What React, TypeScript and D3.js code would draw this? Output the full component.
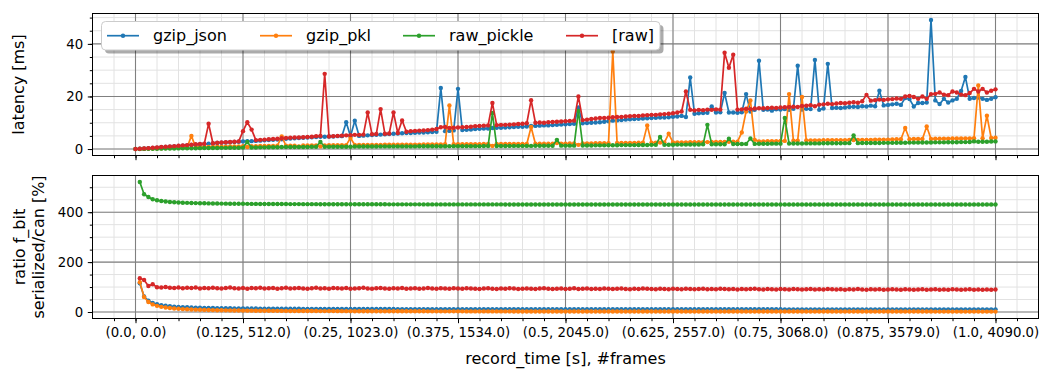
import React, { useEffect, useRef } from 'react';
import * as d3 from 'd3';

const WIDTH = 1041;
const HEIGHT = 369;
const STEP = 0.005; // record_time between two samples
const FONT = 'DejaVu Sans, sans-serif';

const seriesNames = ['gzip_json', 'gzip_pkl', 'raw_pickle', '[raw]'];
const seriesColors = ['#1f77b4', '#ff7f0e', '#2ca02c', '#d62728'];

const tickTimes = [0, 0.125, 0.25, 0.375, 0.5, 0.625, 0.75, 0.875, 1.0];
const tickLabels = [
  '(0.0, 0.0)', '(0.125, 512.0)', '(0.25, 1023.0)', '(0.375, 1534.0)', '(0.5, 2045.0)',
  '(0.625, 2557.0)', '(0.75, 3068.0)', '(0.875, 3579.0)', '(1.0, 4090.0)',
];

// latency [ms], one sample every STEP from t = 0
const latencyJson = [
  0, 0.1, 0.2, 0.3, 0.45, 0.55, 0.7, 0.8, 0.9, 1.0, 1.2, 1.3, 1.4, 1.55, 1.7, 1.8, 1.9, 2.0, 2.1, 2.3, 2.4, 2.5, 2.6, 2.7, 2.8,
  2.9, 3.0, 3.0, 3.1, 3.2, 3.3, 3.4, 3.5, 3.6, 3.7, 3.9, 4.0, 4.1, 4.2, 4.3, 4.4, 4.5, 4.6, 4.7, 4.7, 4.8, 4.8, 4.9, 4.9, 10.2,
  4.9, 10.8, 5.0, 5.1, 5.2, 5.3, 5.4, 5.5, 5.6, 5.7, 5.8, 5.9, 6.0, 6.1, 6.1, 6.2, 6.3, 6.3, 6.4, 6.5, 6.6, 23.2, 6.8, 6.9, 7.1,
  22.9, 7.2, 7.3, 7.4, 7.6, 7.7, 7.8, 7.8, 8.0, 8.1, 8.1, 8.2, 8.3, 8.4, 8.5, 8.5, 8.6, 8.8, 8.8, 8.9, 9.0, 9.0, 9.1, 9.2, 9.3,
  9.4, 9.5, 9.6, 15.8, 9.8, 9.9, 10.0, 10.1, 10.2, 10.4, 10.6, 10.8, 10.9, 11.0, 11.2, 11.3, 11.4, 11.5, 11.6, 11.7, 11.8, 11.9, 12.0, 12.0, 12.1,
  12.3, 12.4, 12.6, 12.2, 27.2, 13.4, 13.6, 13.7, 13.8, 16.2, 13.9, 14.0, 21.3, 13.9, 13.9, 13.8, 14.0, 20.9, 14.3, 14.9, 33.6, 14.9, 15.0, 14.6, 15.1,
  15.0, 15.2, 14.9, 15.3, 31.7, 15.0, 15.3, 15.2, 33.9, 14.9, 15.4, 32.4, 15.6, 15.7, 15.6, 15.8, 16.0, 16.1, 16.0, 16.3, 16.2, 16.5, 16.3, 22.2, 16.6,
  16.8, 17.0, 17.2, 16.8, 19.4, 19.0, 16.2, 17.5, 17.5, 17.7, 49.1, 18.5, 17.1, 19.1, 17.7, 18.5, 19.1, 22.1, 27.4, 19.1, 19.4, 19.6, 19.1, 18.7, 19.1,
  19.7,
];
const latencyPkl = [
  0, 0.05, 0.1, 0.15, 0.2, 0.25, 0.3, 0.35, 0.4, 0.45, 0.5, 0.55, 0.6, 5.0, 0.65, 0.7, 0.75, 0.8, 0.8, 0.85, 0.9, 0.9, 0.95, 1.0, 1.0,
  1.05, 0.8, 1.1, 1.1, 1.15, 1.2, 1.2, 1.2, 1.25, 4.8, 1.25, 1.3, 1.3, 1.0, 1.35, 1.35, 1.4, 1.4, 1.0, 1.4, 1.45, 1.45, 1.5, 1.5, 1.5,
  4.2, 1.55, 1.55, 1.55, 1.6, 1.6, 1.6, 1.6, 1.65, 1.65, 1.65, 1.65, 1.7, 1.7, 1.7, 1.7, 1.7, 1.75, 1.75, 1.75, 1.75, 1.75, 1.8, 16.6, 1.8,
  1.8, 1.8, 1.85, 1.85, 1.85, 1.85, 1.9, 1.9, 1.2, 1.9, 1.9, 1.9, 1.95, 1.95, 1.95, 1.95, 1.95, 8.4, 2.0, 2.0, 2.0, 2.0, 2.0, 2.3, 2.05,
  2.05, 2.1, 2.1, 1.6, 2.1, 2.15, 2.15, 2.2, 2.2, 2.2, 2.25, 37.1, 2.3, 2.3, 2.3, 2.35, 2.35, 2.4, 2.4, 9.0, 2.4, 2.45, 2.45, 2.5, 5.8,
  2.5, 2.5, 2.55, 2.55, 2.6, 2.6, 2.6, 2.65, 2.65, 2.7, 2.7, 2.7, 2.7, 2.75, 2.75, 2.8, 6.3, 14.3, 18.5, 3.5, 2.9, 2.9, 3.0, 3.0, 3.0,
  3.1, 3.1, 20.9, 3.2, 3.2, 19.8, 3.3, 3.3, 3.3, 3.3, 3.35, 3.35, 3.4, 3.4, 3.4, 3.4, 3.45, 3.45, 3.5, 3.5, 3.5, 3.5, 3.55, 3.55, 3.6,
  3.6, 3.65, 3.7, 3.7, 8.0, 3.75, 3.8, 3.8, 3.85, 8.6, 3.85, 3.9, 3.9, 3.95, 3.95, 4.0, 4.0, 4.0, 4.05, 4.05, 4.1, 24.2, 4.1, 12.7, 4.2,
  4.3,
];
const latencyPickle = [
  0, 0.02, 0.05, 0.07, 0.1, 0.12, 0.15, 0.17, 0.2, 0.22, 0.25, 0.27, 0.3, 0.3, 0.32, 0.35, 0.37, 0.4, 0.4, 0.42, 0.45, 0.45, 0.47, 0.5, 0.5,
  0.55, 2.7, 0.6, 0.6, 0.65, 0.65, 0.7, 0.7, 0.7, 0.75, 0.75, 0.75, 0.8, 0.8, 0.8, 0.8, 0.85, 0.85, 2.7, 0.85, 0.9, 0.9, 0.9, 0.9, 0.9,
  0.9, 0.95, 0.95, 0.95, 0.95, 0.95, 0.95, 1.0, 1.0, 1.0, 1.0, 1.0, 1.0, 1.0, 1.0, 1.0, 1.05, 1.05, 1.05, 1.05, 1.05, 1.05, 1.05, 1.1, 1.1,
  1.1, 1.1, 1.1, 1.1, 1.1, 1.1, 1.15, 1.15, 13.7, 1.15, 1.15, 1.15, 1.2, 1.2, 1.2, 1.2, 1.2, 1.2, 1.25, 1.25, 1.25, 1.25, 1.25, 3.5, 1.3,
  1.3, 1.3, 1.3, 14.5, 1.35, 1.35, 1.35, 1.4, 1.4, 1.4, 1.45, 1.45, 1.45, 1.5, 1.5, 1.5, 1.5, 1.55, 1.55, 1.55, 1.6, 1.6, 4.6, 1.6, 1.65,
  1.65, 1.7, 1.7, 1.7, 1.75, 1.75, 1.75, 1.8, 9.2, 1.8, 1.85, 1.85, 1.85, 3.9, 1.9, 1.9, 1.9, 1.95, 4.0, 1.95, 2.0, 2.0, 2.0, 2.05, 2.05,
  2.05, 11.8, 2.1, 2.1, 2.1, 2.1, 2.15, 2.15, 2.15, 2.15, 2.2, 2.2, 2.2, 2.2, 2.2, 2.25, 2.25, 5.2, 2.25, 2.3, 2.3, 2.3, 2.3, 2.3, 2.35,
  2.35, 2.35, 2.4, 2.4, 2.4, 2.45, 2.45, 2.45, 2.5, 2.5, 2.5, 2.55, 2.55, 2.55, 2.6, 2.6, 2.6, 2.65, 2.65, 2.7, 2.9, 2.8, 2.8, 2.8, 2.85,
  2.9,
];
const latencyRaw = [
  0, 0.1, 0.25, 0.35, 0.5, 0.6, 0.75, 0.85, 1.0, 1.1, 1.25, 1.4, 1.5, 1.65, 1.8, 1.9, 2.0, 9.6, 2.2, 2.4, 2.5, 2.6, 2.7, 2.8, 2.9,
  6.8, 10.2, 7.4, 3.4, 3.5, 3.6, 3.7, 3.8, 3.9, 4.1, 4.2, 4.3, 4.4, 4.4, 4.5, 4.6, 4.7, 4.9, 5.0, 28.6, 4.8, 4.9, 5.0, 5.1, 5.2,
  5.3, 5.4, 5.4, 5.5, 13.9, 5.6, 5.7, 15.2, 5.8, 5.9, 13.9, 6.1, 10.9, 6.6, 6.8, 6.9, 7.0, 7.1, 7.2, 7.4, 7.6, 8.3, 8.4, 8.0, 8.1,
  8.2, 8.3, 8.4, 8.5, 8.7, 8.8, 8.9, 9.0, 17.5, 9.1, 9.2, 9.2, 9.3, 9.4, 9.5, 9.6, 9.8, 18.6, 10.0, 10.1, 10.0, 10.2, 10.3, 10.4, 10.5,
  10.6, 10.7, 10.8, 20.0, 11.0, 11.2, 11.4, 11.6, 11.8, 11.8, 11.9, 12.1, 12.2, 12.2, 12.4, 12.5, 12.6, 12.6, 12.8, 12.9, 13.0, 13.0, 13.2, 13.3, 13.4,
  13.6, 13.9, 14.3, 21.9, 14.9, 14.7, 14.9, 14.8, 15.0, 14.9, 15.1, 15.0, 36.6, 30.9, 35.9, 15.0, 15.1, 15.3, 15.2, 15.4, 15.5, 15.5, 15.6, 15.7, 15.6,
  15.8, 15.9, 16.0, 16.1, 16.0, 16.4, 16.5, 16.7, 16.3, 16.9, 17.0, 17.2, 17.1, 17.3, 17.5, 17.4, 17.6, 17.8, 17.6, 18.2, 20.6, 18.4, 18.6, 18.8, 18.7,
  18.9, 19.0, 19.2, 19.1, 20.0, 20.2, 19.8, 19.1, 20.0, 19.1, 20.9, 21.0, 21.5, 20.7, 20.5, 21.9, 21.5, 20.7, 20.5, 21.3, 22.9, 21.9, 22.9, 21.5, 22.2,
  22.7,
];

// ratio f_bit serialized/can [%], starts at the second sample (nothing at t = 0)
const ratioJson = [
  115, 62.5, 45, 36.3, 31, 27.5, 25, 23.1, 21.7, 20.5, 19.5, 18.8, 18.1, 17.5, 17, 16.6, 16.2, 15.8, 15.5, 15.3, 15, 14.8, 14.6, 14.4, 14.2,
  14, 13.9, 13.8, 13.6, 13.5, 13.4, 13.3, 13.2, 13.1, 13, 12.9, 12.8, 12.8, 12.7, 12.6, 12.6, 12.5, 12.4, 12.4, 12.3, 12.3, 12.2, 12.2, 12.1, 12.1,
  12.1, 12, 12, 11.9, 11.9, 11.9, 11.8, 11.8, 11.8, 11.8, 11.7, 11.7, 11.7, 11.6, 11.6, 11.6, 11.6, 11.5, 11.5, 11.5, 11.5, 11.5, 11.4, 11.4, 11.4,
  11.4, 11.4, 11.3, 11.3, 11.3, 11.3, 11.3, 11.3, 11.2, 11.2, 11.2, 11.2, 11.2, 11.2, 11.2, 11.1, 11.1, 11.1, 11.1, 11.1, 11.1, 11.1, 11.1, 11, 11,
  11, 11, 11, 11, 11, 11, 11, 11, 10.9, 10.9, 10.9, 10.9, 10.9, 10.9, 10.9, 10.9, 10.9, 10.9, 10.9, 10.9, 10.9, 10.8, 10.8, 10.8, 10.8,
  10.8, 10.8, 10.8, 10.8, 10.8, 10.8, 10.8, 10.8, 10.8, 10.8, 10.8, 10.8, 10.8, 10.8, 10.8, 10.8, 10.8, 10.8, 10.8, 10.8, 10.8, 10.8, 10.8, 10.8, 10.8,
  10.7, 10.7, 10.7, 10.7, 10.7, 10.7, 10.7, 10.7, 10.7, 10.7, 10.7, 10.7, 10.7, 10.7, 10.7, 10.7, 10.7, 10.7, 10.7, 10.7, 10.7, 10.7, 10.7, 10.7, 10.7,
  10.7, 10.7, 10.7, 10.7, 10.7, 10.7, 10.7, 10.7, 10.7, 10.7, 10.6, 10.6, 10.6, 10.6, 10.6, 10.6, 10.6, 10.6, 10.6, 10.6, 10.6, 10.6, 10.6, 10.6, 10.6,
];
const ratioPkl = [
  119, 60, 40.3, 30.5, 24.6, 20.7, 17.9, 15.8, 14.1, 12.8, 11.7, 10.8, 10.1, 9.4, 8.9, 8.4, 7.9, 7.6, 7.2, 6.9, 6.6, 6.4, 6.1, 5.9, 5.7,
  5.5, 5.4, 5.2, 5.1, 4.9, 4.8, 4.7, 4.6, 4.5, 4.4, 4.3, 4.2, 4.1, 4, 4, 3.9, 3.8, 3.7, 3.7, 3.6, 3.6, 3.5, 3.5, 3.4, 3.4,
  3.3, 3.3, 3.2, 3.2, 3.1, 3.1, 3.1, 3, 3, 3, 2.9, 2.9, 2.9, 2.8, 2.8, 2.8, 2.8, 2.7, 2.7, 2.7, 2.7, 2.6, 2.6, 2.6, 2.6,
  2.6, 2.5, 2.5, 2.5, 2.5, 2.5, 2.4, 2.4, 2.4, 2.4, 2.4, 2.4, 2.3, 2.3, 2.3, 2.3, 2.3, 2.3, 2.3, 2.2, 2.2, 2.2, 2.2, 2.2, 2.2,
  2.2, 2.2, 2.1, 2.1, 2.1, 2.1, 2.1, 2.1, 2.1, 2.1, 2.1, 2, 2, 2, 2, 2, 2, 2, 2, 2, 2, 2, 2, 2, 1.9,
  1.9, 1.9, 1.9, 1.9, 1.9, 1.9, 1.9, 1.9, 1.9, 1.9, 1.9, 1.9, 1.9, 1.9, 1.9, 1.9, 1.9, 1.9, 1.9, 1.9, 1.9, 1.9, 1.9, 1.9, 1.9,
  1.8, 1.8, 1.8, 1.8, 1.8, 1.8, 1.8, 1.8, 1.8, 1.8, 1.8, 1.8, 1.8, 1.8, 1.8, 1.8, 1.8, 1.8, 1.8, 1.8, 1.8, 1.8, 1.8, 1.8, 1.8,
  1.8, 1.8, 1.8, 1.8, 1.8, 1.8, 1.8, 1.8, 1.8, 1.8, 1.7, 1.7, 1.7, 1.7, 1.7, 1.7, 1.7, 1.7, 1.7, 1.7, 1.7, 1.7, 1.7, 1.7, 1.7,
];
const ratioPickle = [
  521, 472, 461, 452, 448, 445, 443, 441, 440, 439, 438, 437.5, 437, 436.5, 436, 435.6, 435.3, 435, 434.7, 434.5, 434.3, 434.1, 433.9, 433.8, 433.6,
  433.5, 433.3, 433.2, 433.1, 433, 432.9, 432.8, 432.7, 432.6, 432.6, 432.5, 432.4, 432.4, 432.3, 432.3, 432.2, 432.2, 432.1, 432.1, 432, 432, 432, 431.9, 431.9, 431.8,
  431.8, 431.7, 431.7, 431.7, 431.6, 431.6, 431.6, 431.6, 431.5, 431.5, 431.5, 431.5, 431.4, 431.4, 431.4, 431.4, 431.3, 431.3, 431.3, 431.3, 431.3, 431.3, 431.2, 431.2, 431.2,
  431.2, 431.2, 431.2, 431.2, 431.2, 431.2, 431.2, 431.2, 431.2, 431.2, 431.1, 431.1, 431.1, 431.1, 431.1, 431.1, 431.1, 431.1, 431.1, 431.1, 431.1, 431.1, 431.1, 431.1, 431.1,
  431.1, 431.1, 431.1, 431.1, 431.1, 431, 431, 431, 431, 431, 431, 431, 431, 431, 431, 431, 431, 431, 431, 431, 431, 431, 431, 431, 431,
  430.8, 430.8, 430.8, 430.8, 430.8, 430.8, 430.8, 430.8, 430.8, 430.8, 430.8, 430.8, 430.8, 430.8, 430.8, 430.8, 430.8, 430.8, 430.8, 430.8, 430.8, 430.8, 430.8, 430.8, 430.8,
  430.7, 430.7, 430.7, 430.7, 430.7, 430.7, 430.7, 430.7, 430.7, 430.7, 430.7, 430.7, 430.7, 430.7, 430.7, 430.7, 430.7, 430.7, 430.7, 430.7, 430.7, 430.7, 430.7, 430.7, 430.7,
  430.6, 430.6, 430.6, 430.6, 430.6, 430.6, 430.6, 430.6, 430.6, 430.6, 430.6, 430.6, 430.6, 430.6, 430.6, 430.6, 430.6, 430.6, 430.6, 430.6, 430.6, 430.6, 430.6, 430.6, 430.6,
];
const ratioRaw = [
  135, 128, 104, 111, 99, 98, 100, 97, 96, 98, 95, 97, 96, 98, 94, 96, 95, 97, 95, 94, 96, 98, 95, 94, 96,
  93, 96, 95, 97, 94, 95, 96, 93, 95, 97, 94, 95, 96, 94, 93, 95, 97, 94, 95, 93, 96, 95, 94, 96, 93,
  94, 95, 97, 94, 93, 95, 96, 94, 93, 95, 94, 96, 93, 94, 95, 93, 94, 96, 94, 93, 95, 94, 93, 95, 94,
  93, 95, 94, 93, 92, 94, 95, 93, 92, 94, 93, 95, 94, 92, 93, 94, 93, 92, 94, 95, 93, 92, 93, 94, 92,
  93, 95, 92, 93, 94, 92, 93, 92, 94, 93, 92, 93, 94, 92, 91, 93, 92, 94, 93, 92, 91, 93, 92, 91, 93,
  92, 91, 93, 92, 91, 92, 93, 91, 92, 91, 93, 92, 91, 92, 90, 92, 91, 92, 93, 91, 90, 92, 91, 90, 92,
  91, 90, 92, 91, 90, 91, 92, 90, 91, 90, 92, 91, 90, 91, 89, 91, 90, 92, 90, 89, 91, 90, 91, 89, 90,
  91, 90, 89, 91, 90, 89, 90, 91, 89, 90, 91, 89, 90, 89, 91, 90, 89, 90, 91, 89, 90, 89, 90, 89, 90,
];

const App = () => {
  const ref = useRef<SVGSVGElement>(null);

  useEffect(() => {
    const svg = d3.select(ref.current);
    svg.selectAll('*').remove();

    const x = d3.scaleLinear().domain([-0.05, 1.05]).range([92.5, 1038.5]);
    const minorX = d3.range(-1, 42).map((k) => k * 0.025);

    const drawPanel = (
      top: number,
      bottom: number,
      series: number[][],
      firstIndex: number,
      yMajor: number[],
      yMinor: number[],
      showLabels: boolean,
    ) => {
      const maxV = d3.max(series.flat()) as number;
      const y = d3.scaleLinear().domain([-0.05 * maxV, 1.05 * maxV]).range([bottom, top]);
      const g = svg.append('g');

      // grid: minor first, then major
      const grid = g.append('g').attr('fill', 'none');
      grid.selectAll('line.mx').data(minorX).join('line').attr('class', 'mx')
        .attr('x1', (d) => x(d)).attr('x2', (d) => x(d)).attr('y1', top).attr('y2', bottom)
        .attr('stroke', '#e2e2e2').attr('stroke-width', 1);
      grid.selectAll('line.my').data(yMinor).join('line').attr('class', 'my')
        .attr('x1', x.range()[0]).attr('x2', x.range()[1]).attr('y1', (d) => y(d)).attr('y2', (d) => y(d))
        .attr('stroke', '#e2e2e2').attr('stroke-width', 1);
      grid.selectAll('line.Mx').data(tickTimes).join('line').attr('class', 'Mx')
        .attr('x1', (d) => x(d)).attr('x2', (d) => x(d)).attr('y1', top).attr('y2', bottom)
        .attr('stroke', '#808080').attr('stroke-width', 1.1);
      grid.selectAll('line.My').data(yMajor).join('line').attr('class', 'My')
        .attr('x1', x.range()[0]).attr('x2', x.range()[1]).attr('y1', (d) => y(d)).attr('y2', (d) => y(d))
        .attr('stroke', '#808080').attr('stroke-width', 1.1);

      // series: line + point markers
      series.forEach((values, s) => {
        const pts = values.map((v, i) => [(i + firstIndex) * STEP, v] as [number, number]);
        const line = d3.line<[number, number]>().x((d) => x(d[0])).y((d) => y(d[1]));
        g.append('path').datum(pts).attr('d', line)
          .attr('fill', 'none').attr('stroke', seriesColors[s]).attr('stroke-width', 1.7)
          .attr('stroke-linejoin', 'round');
        g.append('g').selectAll('circle').data(pts).join('circle')
          .attr('cx', (d) => x(d[0])).attr('cy', (d) => y(d[1])).attr('r', 2.2)
          .attr('fill', seriesColors[s]);
      });

      // frame
      g.append('rect')
        .attr('x', x.range()[0]).attr('y', top)
        .attr('width', x.range()[1] - x.range()[0]).attr('height', bottom - top)
        .attr('fill', 'none').attr('stroke', '#000').attr('stroke-width', 1);

      const styleAxis = (a: d3.Selection<SVGGElement, unknown, null, undefined>) => {
        a.select('.domain').remove();
        a.attr('font-family', FONT).attr('font-size', 13.3);
        a.selectAll('line').attr('stroke', '#000');
        a.selectAll('text').attr('fill', '#000');
      };

      // x ticks
      g.append('g').attr('transform', `translate(0,${bottom})`)
        .call(d3.axisBottom(x).tickValues(minorX).tickSize(2.7).tickFormat(() => ''))
        .call(styleAxis);
      g.append('g').attr('transform', `translate(0,${bottom})`)
        .call(
          d3.axisBottom(x).tickValues(tickTimes).tickSize(4.7).tickPadding(4)
            .tickFormat((_, i) => (showLabels ? tickLabels[i] : '')),
        )
        .call(styleAxis);

      // y ticks
      g.append('g').attr('transform', `translate(${x.range()[0]},0)`)
        .call(d3.axisLeft(y).tickValues(yMinor).tickSize(2.7).tickFormat(() => ''))
        .call(styleAxis);
      g.append('g').attr('transform', `translate(${x.range()[0]},0)`)
        .call(d3.axisLeft(y).tickValues(yMajor).tickSize(4.7).tickPadding(4.7).tickFormat(d3.format('d')))
        .call(styleAxis);
    };

    drawPanel(
      13.5, 155.5,
      [latencyJson, latencyPkl, latencyPickle, latencyRaw], 0,
      [0, 20, 40], d3.range(0, 51, 5), false,
    );
    drawPanel(
      175.5, 318.5,
      [ratioJson, ratioPkl, ratioPickle, ratioRaw], 1,
      [0, 200, 400], d3.range(0, 501, 50), true,
    );

    // axis labels
    const label = (tx: number, ty: number, text: string, rotate: boolean) =>
      svg.append('text')
        .attr('transform', `translate(${tx},${ty})${rotate ? ' rotate(-90)' : ''}`)
        .attr('text-anchor', 'middle').attr('dominant-baseline', 'central')
        .attr('font-family', FONT).attr('font-size', 16).attr('fill', '#000')
        .text(text);
    label(18, 84.5, 'latency [ms]', true);
    label(19.5, 247, 'ratio f_bit', true);
    label(38, 247, 'serialized/can [%]', true);
    label(565.5, 358, 'record_time [s], #frames', false);

    // legend, with a shadow
    const legend = svg.append('g');
    legend.append('rect')
      .attr('x', 105).attr('y', 25).attr('width', 558.5).attr('height', 28.5).attr('rx', 4)
      .attr('fill', '#000').attr('opacity', 0.33);
    legend.append('rect')
      .attr('x', 101.5).attr('y', 21.5).attr('width', 558.5).attr('height', 28.5).attr('rx', 4)
      .attr('fill', '#fff').attr('stroke', '#cccccc').attr('stroke-width', 1);
    const handleX = [107, 260, 403, 566];
    seriesNames.forEach((name, s) => {
      const item = legend.append('g').attr('transform', `translate(${handleX[s]},35.7)`);
      item.append('line').attr('x1', 0).attr('x2', 32).attr('y1', 0).attr('y2', 0)
        .attr('stroke', seriesColors[s]).attr('stroke-width', 1.7);
      item.append('circle').attr('cx', 16).attr('cy', 0).attr('r', 2.2).attr('fill', seriesColors[s]);
      item.append('text').attr('x', 46).attr('y', 0).attr('dominant-baseline', 'central')
        .attr('font-family', FONT).attr('font-size', 16).attr('fill', '#000')
        .text(name);
    });
  }, []);

  return (
    <svg
      ref={ref}
      width={WIDTH}
      height={HEIGHT}
      style={{ position: 'absolute', left: 0, top: 0, background: '#fff' }}
    />
  );
};

export default App;
